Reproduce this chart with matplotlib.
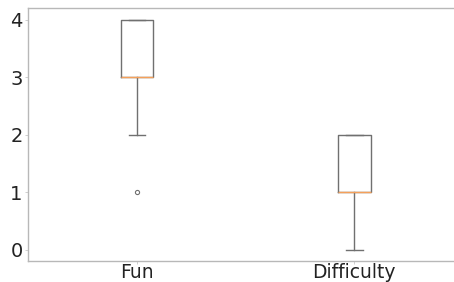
import matplotlib
matplotlib.use("Agg")
import matplotlib.pyplot as plt

labels = ["Fun", "Difficulty"]
q1 = [3, 1]
med = [3, 1]
q3 = [4, 2]
whislo = [2, 0]
whishi = [4, 2]
fliers = [[1], []]

stats = []
for i in range(len(labels)):
    stats.append({"label": labels[i], "q1": q1[i], "med": med[i], "q3": q3[i],
                  "whislo": whislo[i], "whishi": whishi[i], "fliers": fliers[i]})

fig = plt.figure(figsize=(4.54, 2.82), dpi=100)
ax = fig.add_axes([0.062, 0.074, 0.958, 0.897])

gray = "#707070"
ax.bxp(stats, widths=0.15,
       boxprops=dict(color=gray, linewidth=1),
       whiskerprops=dict(color=gray, linewidth=1),
       capprops=dict(color=gray, linewidth=1),
       medianprops=dict(color="#f5a05a", linewidth=1),
       flierprops=dict(marker="o", markersize=3, markerfacecolor="none",
                       markeredgecolor=gray, markeredgewidth=0.8))

ax.set_xlim(0.5, 2.5)
ax.set_ylim(-0.2, 4.2)
ax.set_yticks([0, 1, 2, 3, 4])
for s in ax.spines.values():
    s.set_color("#b8b8b8")
    s.set_linewidth(1)
ax.spines["right"].set_visible(False)
ax.tick_params(length=2, width=0.6, color="#c8c8c8", labelsize=14,
               labelcolor="#222222", pad=2)
ax.tick_params(axis="x", labelsize=13.5, pad=-0.5)

fig.savefig("out.png", dpi=100)
